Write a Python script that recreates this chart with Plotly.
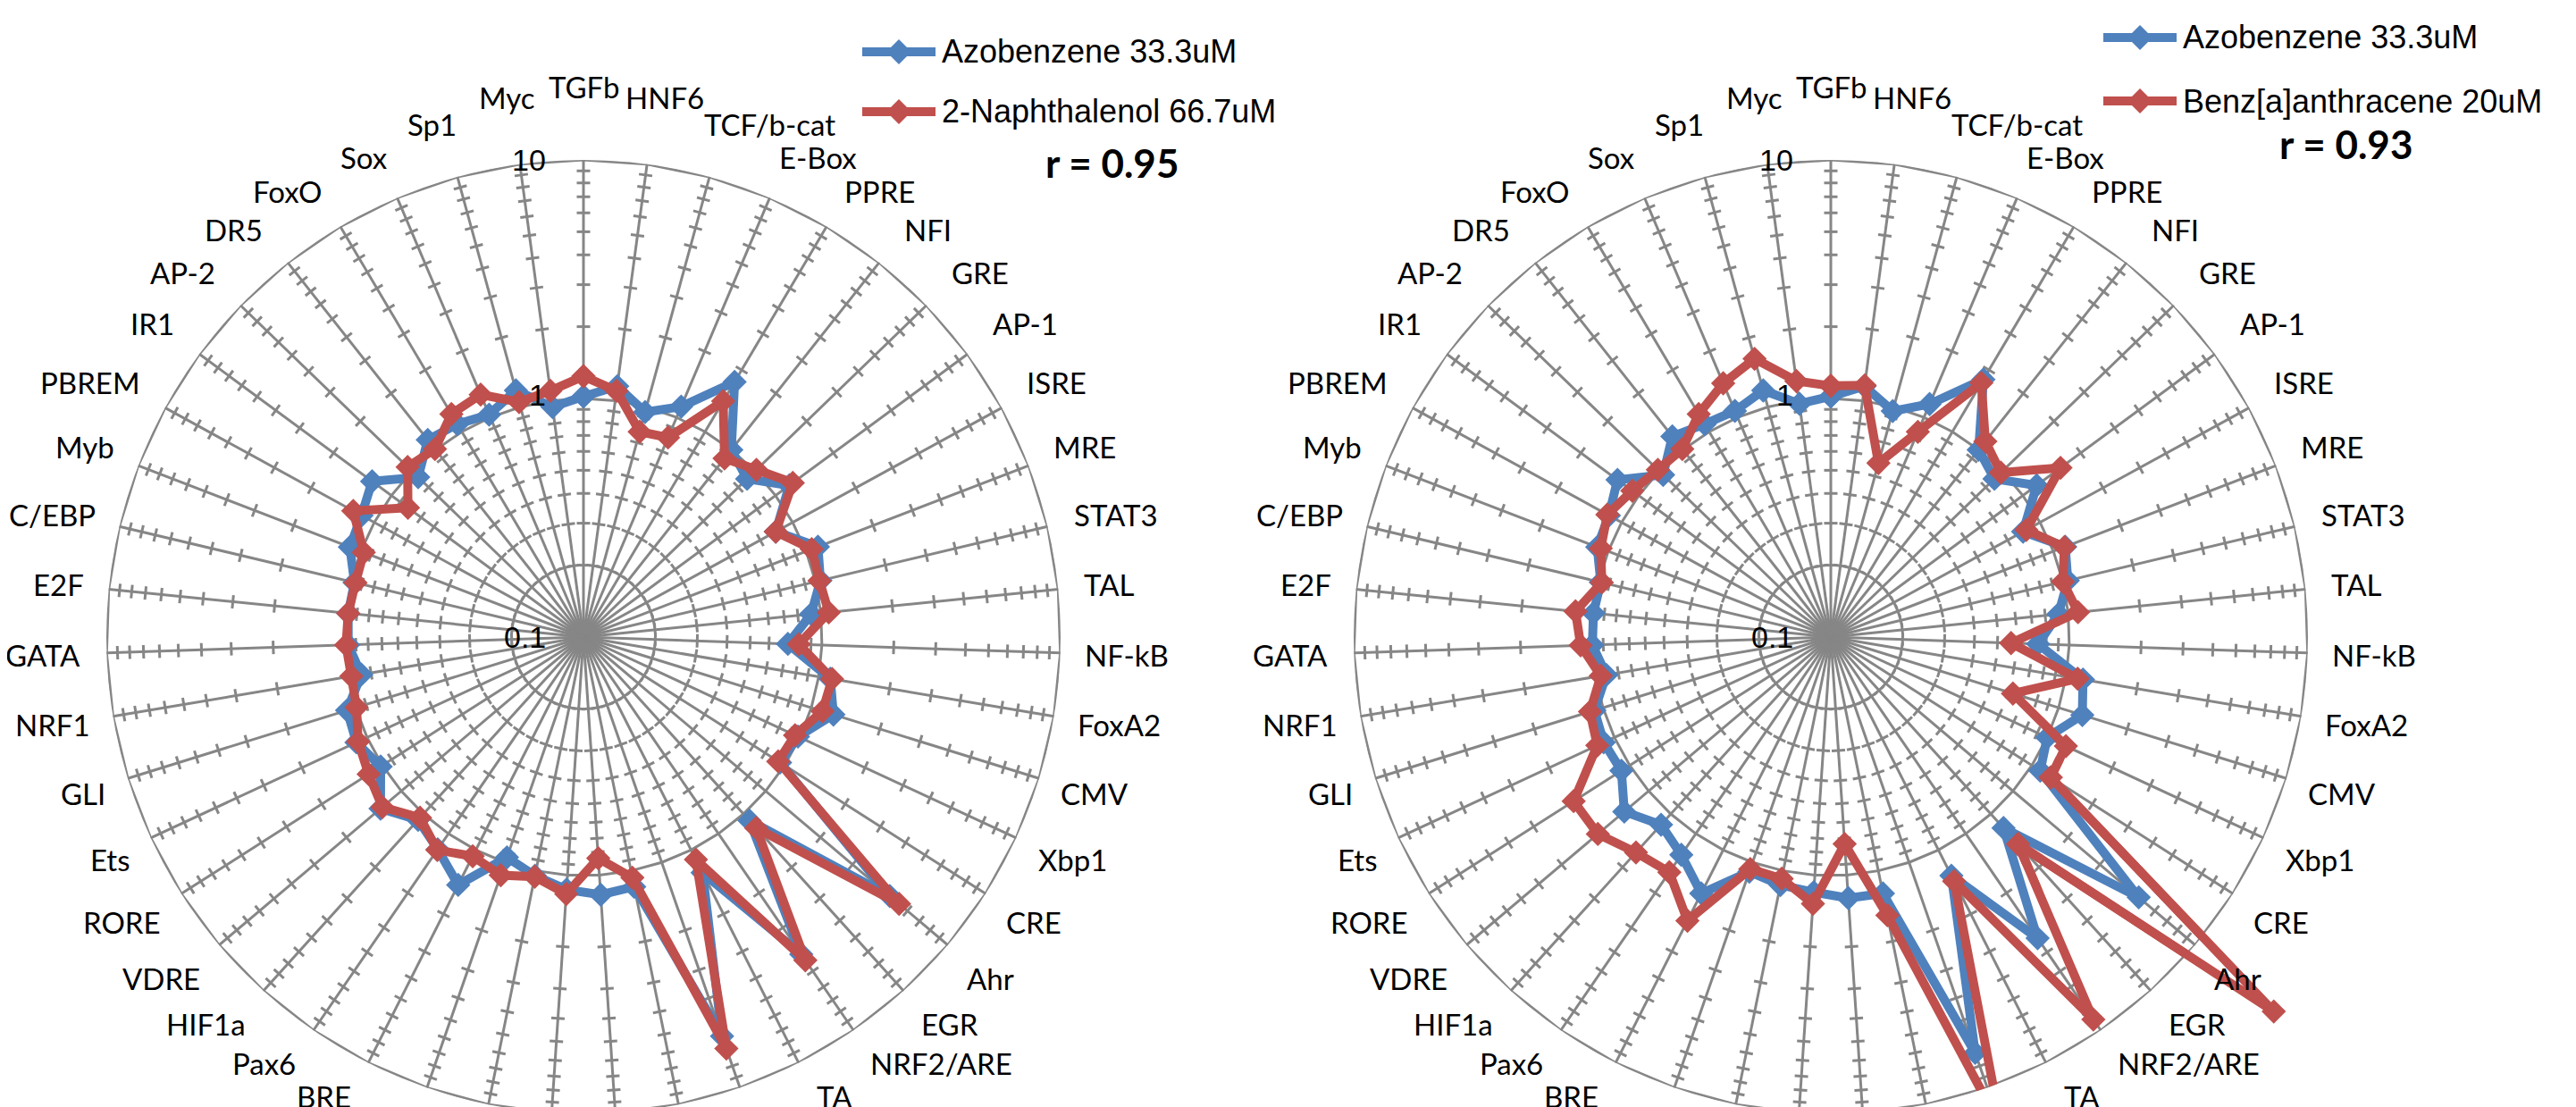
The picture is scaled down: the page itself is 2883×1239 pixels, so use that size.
import math
import plotly.graph_objects as go

W, H = 2883, 1239
OFF = 8   # the page body margin shifts the figure by 8px; layout positions below are page pixels

categories = ["TGFb", "HNF6", "TCF/b-cat", "E-Box", "PPRE", "NFI", "GRE", "AP-1", "ISRE", "MRE",
              "STAT3", "TAL", "NF-kB", "FoxA2", "CMV", "Xbp1", "CRE", "Ahr", "EGR", "NRF2/ARE",
              "TA", "HSE", "M", "Oct", "p53", "PXRE", "SREBP", "BRE", "Pax6", "HIF1a",
              "VDRE", "RORE", "Ets", "GLI", "NRF1", "GATA", "E2F", "C/EBP", "Myb", "PBREM",
              "IR1", "AP-2", "DR5", "FoxO", "Sox", "Sp1", "Myc"]

azobenzene_left = [1.02, 1.15, 0.95, 1.12, 1.75, 1.00, 0.90, 1.18, 0.83, 1.13,
                   1.05, 0.91, 0.72, 1.12, 1.25, 0.98, 0.95, 4.8, 1.09, 4.1,
                   1.28, 5.9, 1.17, 1.21, 1.15, 1.05, 0.95, 1.46, 1.20, 1.08,
                   1.30, 1.02, 1.12, 1.09, 0.88, 0.97, 0.98, 0.97, 1.12, 1.15,
                   1.26, 0.92, 1.13, 1.09, 1.03, 1.18, 0.94]
naphthalenol = [1.24, 1.10, 0.78, 0.81, 1.41, 0.90, 1.02, 1.23, 0.83, 1.06,
                1.04, 1.08, 0.80, 1.14, 1.12, 0.95, 0.93, 5.4, 1.20, 4.4,
                1.11, 6.7, 1.07, 0.85, 1.20, 1.06, 1.14, 1.07, 1.21, 1.05,
                1.27, 1.17, 1.10, 0.99, 0.97, 0.99, 0.98, 0.96, 0.97, 1.26,
                0.82, 1.06, 1.01, 1.22, 1.27, 1.05, 1.10]
azobenzene_right = [1.02, 1.15, 0.96, 1.15, 1.80, 1.00, 0.90, 1.18, 0.83, 1.13,
                    1.05, 0.91, 0.74, 1.18, 1.27, 1.00, 1.10, 4.9, 1.20, 3.4,
                    1.32, 7.0, 1.25, 1.25, 1.18, 1.15, 1.10, 1.60, 1.28, 1.15,
                    1.36, 1.10, 1.12, 1.09, 0.90, 1.00, 1.00, 0.98, 1.12, 1.15,
                    1.29, 0.95, 1.18, 1.09, 1.07, 1.18, 0.97]
benzanthracene = [1.13, 1.16, 0.57, 0.86, 1.73, 1.11, 0.98, 1.57, 0.86, 1.12,
                  1.00, 1.10, 0.57, 1.12, 0.63, 1.22, 1.24, 27.0, 1.48, 8.8,
                  1.40, 15.0, 1.55, 0.74, 1.32, 1.08, 1.07, 2.15, 1.57, 1.65,
                  1.90, 1.90, 1.20, 1.14, 0.95, 1.12, 1.19, 0.97, 1.08, 1.17,
                  1.08, 1.02, 1.01, 1.22, 1.43, 1.62, 1.21]

radial_tick_values = [0.1, 1, 10]
radial_tick_labels = ["0.1", "1", "10"]
minor_tick_values = [0.2, 0.3, 0.4, 0.5, 0.6, 0.7, 0.8, 0.9, 2, 3, 4, 5, 6, 7, 8, 9]

legend_left = ["Azobenzene 33.3uM", "2-Naphthalenol 66.7uM"]
legend_right = ["Azobenzene 33.3uM", "Benz[a]anthracene 20uM"]
r_left, r_right = "r = 0.95", "r = 0.93"

BLUE = "#4F81BD"
RED = "#C0504D"
GRID = "#868686"
CAT_SIZE = 33
CAT_FONT = dict(family="Lato", size=CAT_SIZE, color="black")
NUM_FONT = dict(family="Liberation Sans", size=34, color="black")
LEG_FONT = dict(family="Liberation Sans", size=36, color="black")

N = len(categories)
angles = [360.0 * i / N for i in range(N)]

# geometry in figure pixels
CY = 713 - OFF
R_PX = H - CY                  # radius of the value-10 ring (chart runs off the bottom edge)
TOP = CY - R_PX
DOM_H = 1 - TOP / H
CENTERS = [653 - OFF, 2049 - OFF]
TICK_HALF = 7.5

CHAR_W = {c: w for c, w in zip("ABCDEFGHIJKLMNOPQRSTUVWXYZ",
                               [.68, .65, .67, .74, .56, .54, .72, .76, .29, .40, .66, .50, .90,
                                .76, .80, .61, .80, .64, .54, .57, .73, .68, 1.0, .66, .62, .60])}
CHAR_W.update({c: w for c, w in zip("abcdefghijklmnopqrstuvwxyz",
                                    [.49, .56, .46, .56, .52, .33, .50, .56, .24, .24, .50, .24, .84,
                                     .56, .56, .56, .56, .37, .42, .35, .56, .49, .75, .48, .49, .45])})
CHAR_W.update({"-": .35, "/": .38, " ": .23})


def text_w(t, size):
    return size * sum(CHAR_W.get(ch, .58) for ch in t)


def xdom(cx):
    return [(cx - R_PX) / W, (cx + R_PX) / W]


def sector_bbox(sector):
    a0 = sector[0] % 360
    a1 = a0 + (sector[1] - sector[0])
    ax0, ay0 = math.cos(math.radians(a0)), math.sin(math.radians(a0))
    ax1, ay1 = math.cos(math.radians(a1)), math.sin(math.radians(a1))
    x0 = -1 if ((a0 <= 180 <= a1) or (a0 > 180 and a1 >= 540)) else (0 if (ax0 >= 0 and ax1 >= 0) else min(ax0, ax1))
    x1 = 1 if ((a0 <= 0 <= a1) or (a0 > 0 and a1 >= 360)) else (0 if (ax0 <= 0 and ax1 <= 0) else max(ax0, ax1))
    y1 = 1 if ((a0 <= 90 <= a1) or (a0 > 90 and a1 >= 450)) else (0 if (ay0 <= 0 and ay1 <= 0) else max(ay0, ay1))
    y0 = -1 if ((a0 <= 270 <= a1) or (a0 > 270 and a1 >= 630)) else (0 if (ay0 >= 0 and ay1 >= 0) else min(ay0, ay1))
    return x0, y0, x1, y1


def tick_segments():
    rr, tt = [], []
    for a in angles:
        for v in minor_tick_values:
            rpx = R_PX * (math.log10(v) + 1) / 2
            d = math.degrees(math.atan(TICK_HALF / rpx))
            rend = math.sqrt(rpx ** 2 + TICK_HALF ** 2)
            vend = 10 ** (2 * rend / R_PX - 1)
            rr += [vend, vend, None]
            tt += [a - d, a + d, None]
    return rr, tt


def series_trace(vals, col, sub):
    return go.Scatterpolar(r=vals + [vals[0]], theta=angles + [360], mode="lines+markers",
                           subplot=sub, cliponaxis=False, line=dict(color=col, width=10),
                           marker=dict(symbol="diamond", size=21, color=col, line=dict(width=0)),
                           showlegend=False)


fig = go.Figure()
tick_r, tick_t = tick_segments()
series_sets = [(azobenzene_left, naphthalenol), (azobenzene_right, benzanthracene)]

for i, (blue_vals, red_vals) in enumerate(series_sets):
    sub = "polar" if i == 0 else "polar2"
    for ring in [1, 10]:
        fig.add_trace(go.Scatterpolar(r=[ring] * (N + 1), theta=angles + [360], mode="lines",
                                      line=dict(color=GRID, width=3), subplot=sub,
                                      hoverinfo="skip", showlegend=False))
    fig.add_trace(go.Scatterpolar(r=tick_r, theta=tick_t, mode="lines",
                                  line=dict(color=GRID, width=3), subplot=sub,
                                  hoverinfo="skip", showlegend=False))
    fig.add_trace(series_trace(blue_vals, BLUE, sub))
    fig.add_trace(series_trace(red_vals, RED, sub))

# transparent overlay sector with the same centre and scale as polar2, so the
# Ahr point that lies beyond 10 is drawn outside the outer ring as in Excel
RMAX_DEC = 1.6
R3 = R_PX * (RMAX_DEC + 1) / 2
SECTOR3 = [-50, -28]
bx0, by0, bx1, by1 = sector_bbox(SECTOR3)
x_off = CENTERS[1] + R3 * bx0
y_off = CY - R3 * by1
dom3_x = [x_off / W, (x_off + R3 * (bx1 - bx0)) / W]
dom3_y = [max(0.0, 1 - (y_off + R3 * (by1 - by0)) / H), 1 - y_off / H]
fig.add_trace(series_trace(benzanthracene, RED, "polar3"))

polar_common = dict(
    bgcolor="white",
    angularaxis=dict(type="linear", thetaunit="degrees", rotation=90, direction="clockwise",
                     tickmode="array", tickvals=angles, showticklabels=False,
                     showgrid=True, gridcolor=GRID, gridwidth=3, showline=False, ticks=""),
    radialaxis=dict(type="log", range=[-1, 1], showgrid=False, showline=False,
                    showticklabels=False, ticks=""),
)
polar_overlay = dict(
    bgcolor="rgba(0,0,0,0)", sector=SECTOR3,
    domain=dict(x=dom3_x, y=dom3_y),
    angularaxis=dict(type="linear", thetaunit="degrees", rotation=90, direction="clockwise",
                     showticklabels=False, showgrid=False, showline=False, ticks=""),
    radialaxis=dict(type="log", range=[-1, RMAX_DEC], showgrid=False, showline=False,
                    showticklabels=False, ticks=""),
)

fig.update_layout(
    width=W, height=H, margin=dict(l=0, r=0, t=0, b=0),
    paper_bgcolor="white", plot_bgcolor="white", showlegend=False,
    polar=dict(domain=dict(x=xdom(CENTERS[0]), y=[0, DOM_H]), **polar_common),
    polar2=dict(domain=dict(x=xdom(CENTERS[1]), y=[0, DOM_H]), **polar_common),
    polar3=polar_overlay,
)

annotations, shapes = [], []
# category labels placed outside each spoke's outer vertex, Excel style
for cx in CENTERS:
    for name, a in zip(categories, angles):
        t = math.radians(a)
        s, c = math.sin(t), math.cos(t)
        vx, vy = cx + R_PX * s, CY - R_PX * c
        w2 = text_w(name, CAT_SIZE) / 2
        gh = 28 * min(1.0, max(0.0, (1 - c) / 0.2)) - 10 * max(-c, 0.0)
        blend = min(1.0, abs(s) / 0.3)
        x = vx + (math.copysign((w2 + gh) * blend, s) if abs(s) > 1e-9 else 0)
        fv = math.copysign(min(58 * abs(c), 37), c) + 45 * max(c, 0.0) ** 20
        y = vy - fv
        annotations.append(dict(xref="paper", yref="paper", x=x / W, y=1 - y / H, xanchor="center",
                                yanchor="middle", text=name, showarrow=False, font=CAT_FONT))
    for v, txt in zip(radial_tick_values, radial_tick_labels):
        y = CY - R_PX * (math.log10(v) + 1) / 2 - (4 if v == 1 else 0)
        annotations.append(dict(xref="paper", yref="paper", x=(cx - 40) / W, y=1 - y / H,
                                xanchor="right", yanchor="middle", text=txt, showarrow=False,
                                font=NUM_FONT))

# Legends (Excel style: long line with a diamond); positions in page pixels
legend_specs = [
    dict(x0=965, x1=1047, ys=[58, 125], texts=legend_left, rx=1244, ry=182, rtext=r_left),
    dict(x0=2354, x1=2436, ys=[42, 113], texts=legend_right, rx=2625, ry=161, rtext=r_right),
]
for spec in legend_specs:
    x0, x1 = spec["x0"] - OFF, spec["x1"] - OFF
    for y, txt, col in zip(spec["ys"], spec["texts"], [BLUE, RED]):
        yp = 1 - (y - OFF) / H
        shapes.append(dict(type="line", xref="paper", yref="paper", x0=x0 / W, x1=x1 / W,
                           y0=yp, y1=yp, line=dict(color=col, width=10)))
        shapes.append(dict(type="path", xref="paper", yref="paper", xsizemode="pixel", ysizemode="pixel",
                           xanchor=(x0 + x1) / 2 / W, yanchor=yp,
                           path="M -14 0 L 0 14 L 14 0 L 0 -14 Z", fillcolor=col, line=dict(width=0)))
        annotations.append(dict(xref="paper", yref="paper", x=(x1 + 5) / W, y=yp,
                                xanchor="left", yanchor="middle", text=txt, showarrow=False,
                                font=LEG_FONT))
    annotations.append(dict(xref="paper", yref="paper", x=(spec["rx"] - OFF) / W,
                            y=1 - (spec["ry"] - OFF) / H,
                            xanchor="center", yanchor="middle", text="<b>" + spec["rtext"] + "</b>",
                            showarrow=False, font=dict(family="Lato", size=44, color="black")))

fig.update_layout(shapes=shapes, annotations=annotations)

fig.write_html("out.html")
